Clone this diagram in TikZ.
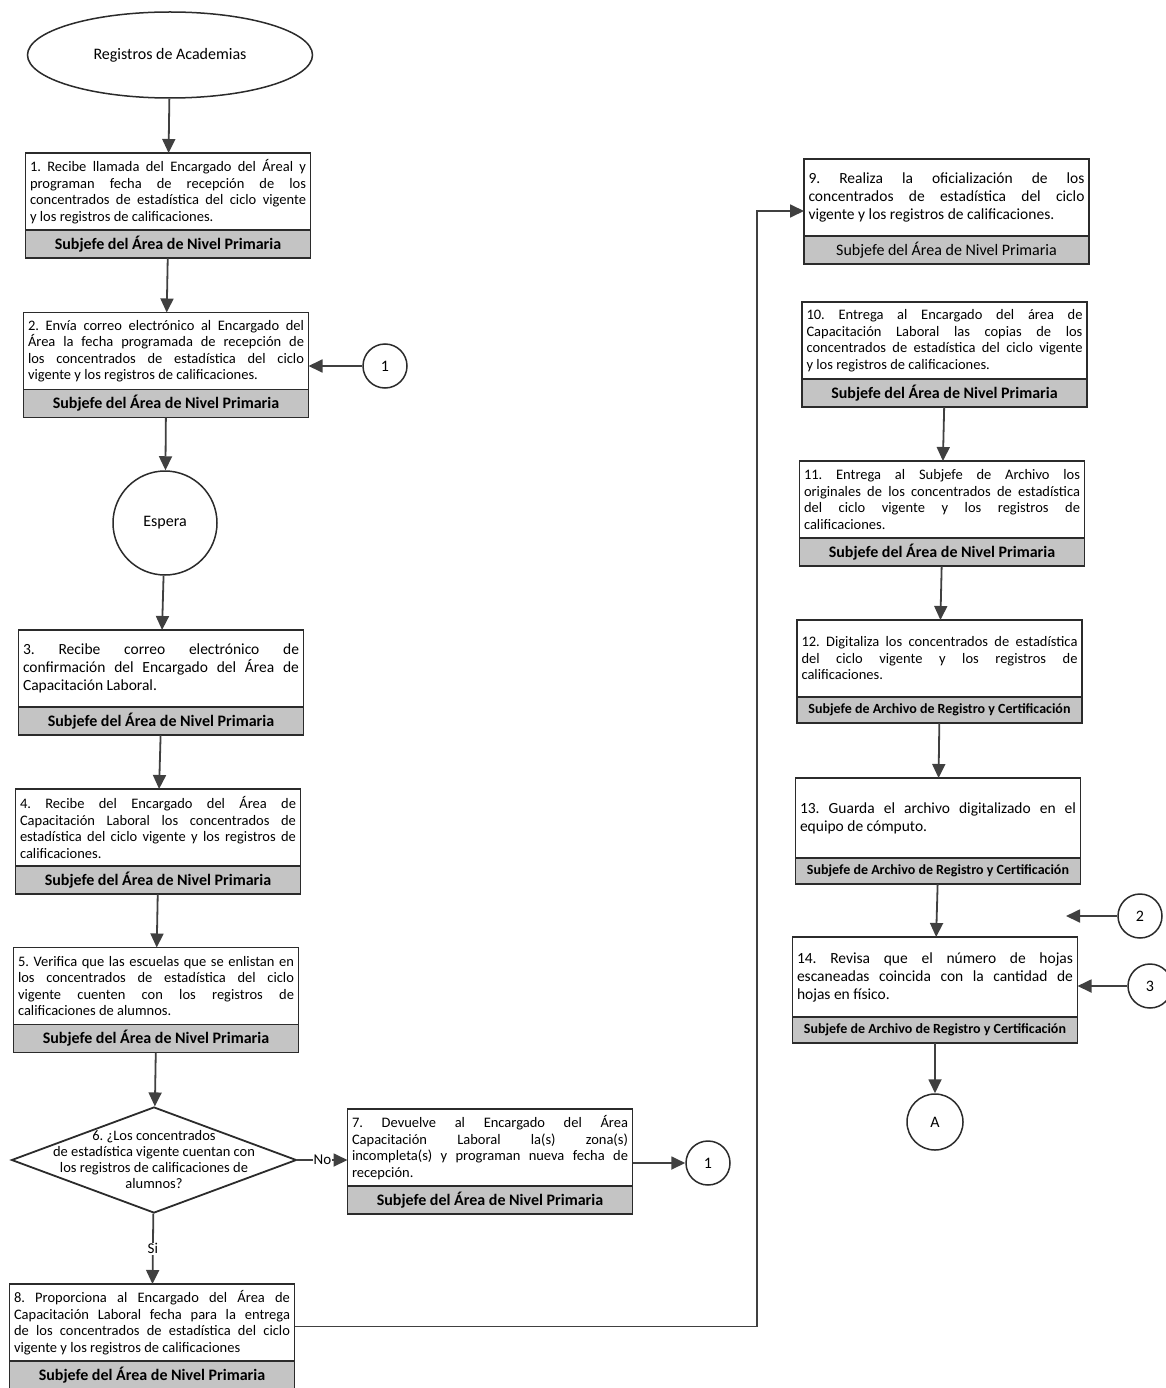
\documentclass[tikz,border=0pt]{standalone}
\usepackage{fontspec}
\setmainfont{Carlito}
\usetikzlibrary{arrows.meta,positioning,shapes.geometric}
\definecolor{trazo}{HTML}{2B2B2B}
\definecolor{banda}{HTML}{C4C4C4}
\definecolor{guia}{HTML}{404040}
\hyphenpenalty=10000
\exhyphenpenalty=10000
\tolerance=9999
\frenchspacing
\tikzset{
  paso/.style={draw=trazo, line width=1.8pt, fill=white, align=justify, outer sep=0pt,
    text width=276pt, inner xsep=4.5pt, inner ysep=3pt, minimum height=77pt,
    font=\fontsize{14.5}{16.5}\selectfont},
  pasogrande/.style={paso, font=\fontsize{15.5}{18}\selectfont},
  resp/.style={draw=trazo, line width=1.8pt, fill=banda, minimum width=285pt, outer sep=0pt,
    minimum height=28pt, inner sep=0pt, font=\fontsize{16}{18}\selectfont\bfseries},
  respchico/.style={resp, minimum height=26pt, font=\fontsize{14}{16}\selectfont\bfseries},
  conector/.style={circle, draw=trazo, line width=1.5pt, fill=white, minimum size=44pt,
    inner sep=0pt, font=\fontsize{16}{18}\selectfont},
  terminal/.style={ellipse, draw=trazo, line width=1.5pt, fill=white, minimum width=285pt,
    minimum height=86pt, font=\fontsize{16}{18}\selectfont},
  decision/.style={diamond, draw=trazo, line width=1.8pt, fill=white,
    minimum width=285pt, minimum height=106pt, inner sep=0pt},
  flecha/.style={draw=guia, line width=1.8pt, -{Triangle[length=14pt,width=13pt]}},
  rotulo/.style={fill=white, inner sep=1pt, font=\fontsize{15}{17}\selectfont}
}

\begin{document}
\begin{tikzpicture}[x=1pt,y=-1pt]
  \useasboundingbox (0,0) rectangle (1166,1388);

  % columna izquierda
  \node[terminal] (ini) at (170,55) {Registros de Academias};

  \node[paso] (p1) at (168,191.5) {1. Recibe llamada del Encargado del Áreal y\linebreak programan fecha de recepción de los\linebreak concentrados de estadística del ciclo vigente\linebreak y los registros de calificaciones.};
  \node[resp, below=0pt of p1] (r1) {Subjefe del Área de Nivel Primaria};

  \node[paso] (p2) at (166,351) {2. Envía correo electrónico al Encargado del\linebreak Área la fecha programada de recepción de\linebreak los concentrados de estadística del ciclo\linebreak vigente y los registros de calificaciones.};
  \node[resp, below=0pt of p2] (r2) {Subjefe del Área de Nivel Primaria};
  \node[conector] (c1) at (385,366) {1};

  \node[conector, minimum size=104pt] (esp) at (165,523) {Espera};

  \node[pasogrande] (p3) at (161,668.5) {3. Recibe correo electrónico de\linebreak confirmación del Encargado del Área de\linebreak Capacitación Laboral.};
  \node[resp, below=0pt of p3] (r3) {Subjefe del Área de Nivel Primaria};

  \node[paso] (p4) at (158,827.5) {4. Recibe del Encargado del Área de\linebreak Capacitación Laboral los concentrados de\linebreak estadística del ciclo vigente y los registros de\linebreak calificaciones.};
  \node[resp, below=0pt of p4] (r4) {Subjefe del Área de Nivel Primaria};

  \node[paso] (p5) at (156,986) {5. Verifica que las escuelas que se enlistan en\linebreak los concentrados de estadística del ciclo\linebreak vigente cuenten con los registros de\linebreak calificaciones de alumnos.};
  \node[resp, below=0pt of p5] (r5) {Subjefe del Área de Nivel Primaria};

  \node[decision] (d6) at (154,1160) {};
  \node[align=center, font=\fontsize{14.5}{16}\selectfont] (d6t) at (d6) {6. ¿Los concentrados\\de estadística vigente cuentan con\\los registros de calificaciones de\\alumnos?};

  \node[paso] (p7) at (490,1147.5) {7. Devuelve al Encargado del Área\linebreak Capacitación Laboral la(s) zona(s)\linebreak incompleta(s) y programan nueva fecha de\linebreak recepción.};
  \node[resp, below=0pt of p7] (r7) {Subjefe del Área de Nivel Primaria};
  \node[conector] (c1b) at (708,1163) {1};

  \node[paso] (p8) at (152,1322.5) {8. Proporciona al Encargado del Área de\linebreak Capacitación Laboral fecha para la entrega\linebreak de los concentrados de estadística del ciclo\linebreak vigente y los registros de calificaciones};
  \node[resp, below=0pt of p8] (r8) {Subjefe del Área de Nivel Primaria};

  % columna derecha
  \node[pasogrande] (p9) at (946.5,197.5) {9. Realiza la oficialización de los\linebreak concentrados de estadística del ciclo\linebreak vigente y los registros de calificaciones.};
  \node[resp, below=0pt of p9, font=\fontsize{16}{18}\selectfont] (r9) {Subjefe del Área de Nivel Primaria};

  \node[paso] (p10) at (944.5,340.5) {10. Entrega al Encargado del área de\linebreak Capacitación Laboral las copias de los\linebreak concentrados de estadística del ciclo vigente\linebreak y los registros de calificaciones.};
  \node[resp, below=0pt of p10] (r10) {Subjefe del Área de Nivel Primaria};

  \node[paso] (p11) at (942,499.5) {11. Entrega al Subjefe de Archivo los\linebreak originales de los concentrados de estadística\linebreak del ciclo vigente y los registros de\linebreak calificaciones.};
  \node[resp, below=0pt of p11] (r11) {Subjefe del Área de Nivel Primaria};

  \node[paso] (p12) at (939.5,658.5) {12. Digitaliza los concentrados de estadística\linebreak del ciclo vigente y los registros de\linebreak calificaciones.};
  \node[respchico, below=0pt of p12] (r12) {Subjefe de Archivo de Registro y Certificación};

  \node[pasogrande, minimum height=80pt] (p13) at (938,818) {13. Guarda el archivo digitalizado en el\linebreak equipo de cómputo.};
  \node[respchico, below=0pt of p13] (r13) {Subjefe de Archivo de Registro y Certificación};

  \node[pasogrande, minimum height=80pt] (p14) at (935,977) {14. Revisa que el número de hojas\linebreak escaneadas coincida con la cantidad de\linebreak hojas en físico.};
  \node[respchico, below=0pt of p14] (r14) {Subjefe de Archivo de Registro y Certificación};
  \node[conector] (c2) at (1140,916) {2};
  \node[conector] (c3) at (1150,986) {3};
  \node[conector, minimum size=56pt] (cA) at (935,1122) {A};

  \coordinate (giro) at (757,211);
  \coordinate (fin2) at (1066,916);

  % flechas
  \draw[flecha] (ini) -- (p1);
  \draw[flecha] (r1) -- (p2);
  \draw[flecha] (c1) -- (c1 -| p2.east);
  \draw[flecha] (r2) -- (esp);
  \draw[flecha] (esp) -- (p3);
  \draw[flecha] (r3) -- (p4);
  \draw[flecha] (r4) -- (p5);
  \draw[flecha] (r5) -- (d6);
  \draw[flecha] (d6.east) -- node[rotulo]{No} (d6.east -| p7.west);
  \draw[flecha] (p7.east |- c1b) -- (c1b);
  \draw[flecha] (d6) -- node[rotulo]{Si} (p8);
  \draw[flecha] ([yshift=-4pt]p8.east) -| (giro) -- (giro -| p9.west);
  \draw[flecha] (r10) -- (p11);
  \draw[flecha] (r11) -- (p12);
  \draw[flecha] (r12) -- (p13);
  \draw[flecha] (r13) -- (p14);
  \draw[flecha] (c2) -- (fin2);
  \draw[flecha] (c3) -- (c3 -| p14.east);
  \draw[flecha] (r14) -- (cA);
\end{tikzpicture}
\end{document}
